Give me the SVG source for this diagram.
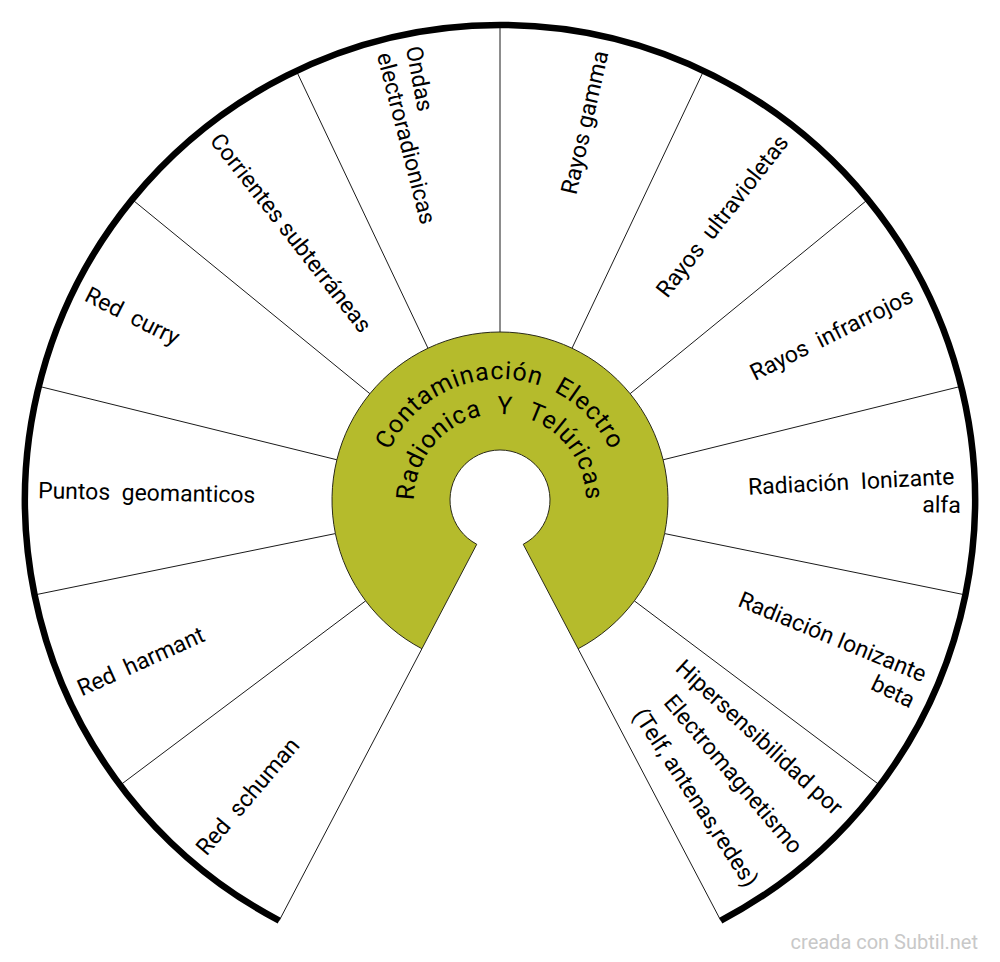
<svg xmlns="http://www.w3.org/2000/svg" width="1000" height="962" viewBox="0 0 1000 962">
<style>
.lbl{font-family:Roboto,"Liberation Sans",sans-serif;font-size:23px;fill:#000;white-space:pre}
.l{text-anchor:start}
.r{text-anchor:end}
.sep{stroke:#1a1a1a;stroke-width:1;fill:none}
.title{font-family:Roboto,"Liberation Sans",sans-serif;font-size:25px;letter-spacing:0.9px;fill:#000;white-space:pre;text-anchor:middle}
.wm{font-family:Roboto,"Liberation Sans",sans-serif;font-size:20px;fill:#c8c8c8;text-anchor:end}
</style>
<defs>
<path id="arc1" d="M479.0 619.2 A121 121 0 1 1 521.0 619.2"/>
<path id="arc2" d="M485.07 584.69 A86 86 0 1 1 514.93 584.69"/>
</defs>
<rect width="1000" height="962" fill="#fff"/>
<g id="connectors">
<line class="sep" x1="421.91" y1="648.75" x2="279.22" y2="920.57"/>
<line class="sep" x1="365.65" y1="600.87" x2="120.14" y2="785.19"/>
<line class="sep" x1="335.39" y1="533.58" x2="34.59" y2="594.95"/>
<line class="sep" x1="336.89" y1="459.78" x2="38.82" y2="386.28"/>
<line class="sep" x1="369.90" y1="393.71" x2="132.16" y2="199.47"/>
<line class="sep" x1="427.98" y1="348.21" x2="296.37" y2="70.84"/>
<line class="sep" x1="500" y1="332" x2="500" y2="25"/>
<line class="sep" x1="572.02" y1="348.21" x2="703.63" y2="70.84"/>
<line class="sep" x1="630.10" y1="393.71" x2="867.84" y2="199.47"/>
<line class="sep" x1="663.11" y1="459.78" x2="961.18" y2="386.28"/>
<line class="sep" x1="664.61" y1="533.58" x2="965.41" y2="594.95"/>
<line class="sep" x1="634.35" y1="600.87" x2="879.86" y2="785.19"/>
<line class="sep" x1="578.09" y1="648.75" x2="720.78" y2="920.57"/>
</g>
<path id="rim" d="M279.22 920.57 A475 475 0 1 1 720.78 920.57" fill="none" stroke="#000" stroke-width="6.5"/>
<g id="center">
<path d="M421.91 648.75 A168 168 0 1 1 578.09 648.75 L523.24 544.27 A50 50 0 1 0 476.76 544.27 Z" fill="#b5bb2c" stroke="#2a2a1a" stroke-width="1"/>
<text class="title"><textPath href="#arc1" startOffset="50%">Contaminación  Electro</textPath></text>
<text class="title"><textPath href="#arc2" startOffset="50%">Radionica  Y  Telúricas</textPath></text>
</g>
<g id="node-red-schuman"><text class="lbl l" x="38" y="500" dy=".33em" transform="rotate(-49.61 500 500)">Red  schuman</text></g>
<g id="node-red-harmant"><text class="lbl l" x="38" y="500" dy=".33em" transform="rotate(-24.23 500 500)">Red  harmant</text></g>
<g id="node-puntos"><text class="lbl l" x="38" y="500" dy=".33em" transform="rotate(1.15 500 500)">Puntos  geomanticos</text></g>
<g id="node-red-curry"><text class="lbl l" x="38" y="500" dy=".33em" transform="rotate(26.54 500 500)">Red  curry</text></g>
<g id="node-corrientes"><text class="lbl l" x="38" y="500" dy=".33em" transform="rotate(51.92 500 500)">Corrientes subterráneas</text></g>
<g id="node-ondas">
<text class="lbl l" x="38" y="500" dy=".33em" transform="rotate(79.16 500 500)">Ondas</text>
<text class="lbl l" x="38" y="500" dy=".33em" transform="rotate(75.46 500 500)">electroradionicas</text>
</g>
<g id="node-gamma"><text class="lbl r" x="960" y="500" dy=".33em" transform="rotate(-77.31 500 500)">Rayos gamma</text></g>
<g id="node-ultravioletas"><text class="lbl r" x="960" y="500" dy=".33em" transform="rotate(-51.92 500 500)">Rayos  ultravioletas</text></g>
<g id="node-infrarrojos"><text class="lbl r" x="960" y="500" dy=".33em" transform="rotate(-26.54 500 500)">Rayos  infrarrojos</text></g>
<g id="node-alfa">
<text class="lbl r" x="955" y="500" dy=".33em" transform="rotate(-2.95 500 500)">Radiación  Ionizante</text>
<text class="lbl r" x="961" y="500" dy=".33em" transform="rotate(0.65 500 500)">alfa</text>
</g>
<g id="node-beta">
<text class="lbl r" x="960" y="500" dy=".33em" transform="rotate(22.4 500 500)">Radiación Ionizante</text>
<text class="lbl r" x="960" y="500" dy=".33em" transform="rotate(26.0 500 500)">beta</text>
</g>
<g id="node-hipersensibilidad">
<text class="lbl r" x="960" y="500" dy=".33em" transform="rotate(42.5 500 500)">Hipersensibilidad por</text>
<text class="lbl r" x="960" y="500" dy=".33em" transform="rotate(49.61 500 500)">Electromagnetismo</text>
<text class="lbl r" x="960" y="500" dy=".33em" transform="rotate(56.7 500 500)">(Telf, antenas,redes)</text>
</g>
<text class="wm" x="978" y="949">creada con Subtil.net</text>
</svg>
